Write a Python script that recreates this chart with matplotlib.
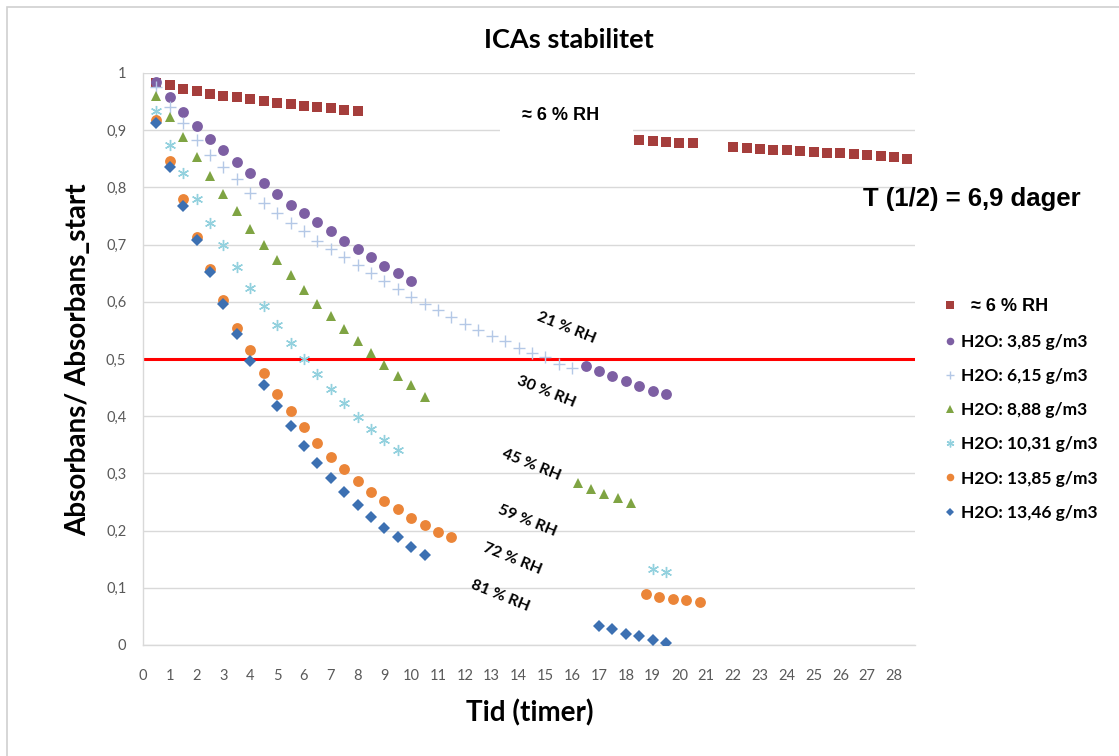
import matplotlib
matplotlib.use("Agg")
from matplotlib import pyplot as plt
from matplotlib.patches import Rectangle

W, H = 1119, 756

# --- data ---
x_ticks = [0, 1, 2, 3, 4, 5, 6, 7, 8, 9, 10, 11, 12, 13, 14, 15, 16, 17, 18, 19, 20,
           21, 22, 23, 24, 25, 26, 27, 28]
y_ticks = [0, 0.1, 0.2, 0.3, 0.4, 0.5, 0.6, 0.7, 0.8, 0.9, 1.0]
y_tick_labels = ["0", "0,1", "0,2", "0,3", "0,4", "0,5", "0,6", "0,7", "0,8", "0,9", "1"]

red_x = [0.5, 1, 1.5, 2, 2.5, 3, 3.5, 4, 4.5, 5, 5.5, 6, 6.5, 7, 7.5, 8,
         18.5, 19, 19.5, 20, 20.5,
         22, 22.5, 23, 23.5, 24, 24.5, 25, 25.5, 26, 26.5, 27, 27.5, 28, 28.5]
red_y = [0.983, 0.979, 0.972, 0.968, 0.964, 0.960, 0.958, 0.954, 0.951, 0.948, 0.945,
         0.942, 0.940, 0.938, 0.936, 0.934,
         0.883, 0.881, 0.880, 0.878, 0.877,
         0.870, 0.869, 0.867, 0.866, 0.865, 0.864, 0.862, 0.861, 0.860, 0.858, 0.856,
         0.855, 0.853, 0.850]

purple_x = [0.5, 1, 1.5, 2, 2.5, 3, 3.5, 4, 4.5, 5, 5.5, 6, 6.5, 7, 7.5, 8, 8.5, 9, 9.5, 10,
            16.5, 17, 17.5, 18, 18.5, 19, 19.5]
purple_y = [0.984, 0.958, 0.932, 0.908, 0.885, 0.865, 0.844, 0.825, 0.808, 0.789, 0.770,
            0.755, 0.739, 0.724, 0.707, 0.692, 0.678, 0.663, 0.650, 0.636,
            0.488, 0.479, 0.470, 0.461, 0.453, 0.444, 0.439]

plus_x = [0.5, 1, 1.5, 2, 2.5, 3, 3.5, 4, 4.5, 5, 5.5, 6, 6.5, 7, 7.5, 8, 8.5, 9, 9.5, 10,
          10.5, 11, 11.5, 12, 12.5, 13, 13.5, 14, 14.5, 15, 15.5, 16]
plus_y = [0.975, 0.941, 0.912, 0.883, 0.857, 0.835, 0.815, 0.790, 0.773, 0.755, 0.738,
          0.723, 0.707, 0.692, 0.678, 0.664, 0.651, 0.636, 0.623, 0.609, 0.597, 0.585,
          0.573, 0.562, 0.551, 0.540, 0.531, 0.520, 0.511, 0.503, 0.491, 0.485]

green_x = [0.5, 1, 1.5, 2, 2.5, 3, 3.5, 4, 4.5, 5, 5.5, 6, 6.5, 7, 7.5, 8, 8.5, 9, 9.5, 10,
           10.5, 16.2, 16.7, 17.2, 17.7, 18.2]
green_y = [0.960, 0.923, 0.888, 0.854, 0.820, 0.789, 0.759, 0.728, 0.700, 0.673, 0.646,
           0.621, 0.596, 0.575, 0.552, 0.531, 0.510, 0.489, 0.470, 0.454, 0.434,
           0.283, 0.273, 0.264, 0.257, 0.248]

star_x = [0.5, 1, 1.5, 2, 2.5, 3, 3.5, 4, 4.5, 5, 5.5, 6, 6.5, 7, 7.5, 8, 8.5, 9, 9.5,
          19, 19.5]
star_y = [0.934, 0.874, 0.826, 0.780, 0.738, 0.699, 0.661, 0.625, 0.592, 0.559, 0.528,
          0.500, 0.473, 0.447, 0.423, 0.399, 0.378, 0.358, 0.341, 0.132, 0.128]

orange_x = [0.5, 1, 1.5, 2, 2.5, 3, 3.5, 4, 4.5, 5, 5.5, 6, 6.5, 7, 7.5, 8, 8.5, 9, 9.5, 10,
            10.5, 11, 11.5, 18.75, 19.25, 19.75, 20.25, 20.75]
orange_y = [0.917, 0.847, 0.780, 0.714, 0.657, 0.603, 0.555, 0.515, 0.475, 0.438, 0.409,
            0.381, 0.354, 0.329, 0.307, 0.287, 0.268, 0.251, 0.237, 0.222, 0.210, 0.198,
            0.189, 0.090, 0.084, 0.081, 0.078, 0.075]

blue_x = [0.5, 1, 1.5, 2, 2.5, 3, 3.5, 4, 4.5, 5, 5.5, 6, 6.5, 7, 7.5, 8, 8.5, 9, 9.5, 10,
          10.5, 17, 17.5, 18, 18.5, 19, 19.5]
blue_y = [0.912, 0.835, 0.767, 0.708, 0.652, 0.596, 0.543, 0.497, 0.455, 0.417, 0.382,
          0.348, 0.319, 0.292, 0.268, 0.245, 0.224, 0.205, 0.188, 0.171, 0.157,
          0.033, 0.028, 0.020, 0.015, 0.009, 0.004]

labels = ["  \u2248 6 % RH", "H2O: 3,85 g/m3", "H2O: 6,15 g/m3", "H2O: 8,88 g/m3",
          "H2O: 10,31 g/m3", "H2O: 13,85 g/m3", "H2O: 13,46 g/m3"]

rh_labels = ["21 % RH", "30 % RH", "45 % RH", "59 % RH", "72 % RH", "81 % RH"]
rh_x = [15.76, 15.01, 14.49, 14.33, 13.76, 13.32]
rh_y = [0.554, 0.442, 0.315, 0.217, 0.150, 0.086]

CAL = "Lato"      # stand-in for Calibri
ARIAL = "Liberation Sans"

fig = plt.figure(figsize=(W / 100, H / 100), dpi=100)
# chart area border
fig.patches.append(Rectangle((7 / W, -0.1), 1.2, 1 - 7 / H + 0.1, transform=fig.transFigure,
                             fill=False, edgecolor="#D0D0D0", linewidth=1.2))

ax = fig.add_axes([143 / W, 1 - 645 / H, (915 - 143) / W, (645 - 73) / H])
ax.set_xlim(0, 28.78)
ax.set_ylim(0, 1)

ax.axhline(0.5, color="#FF0000", linewidth=2.2, zorder=2)

ms = 7.8
series = [
    (red_x, red_y, dict(marker="s", color="#A53E3C", ms=7.4)),
    (purple_x, purple_y, dict(marker="o", color="#7D5FA3", ms=ms)),
    (plus_x, plus_y, dict(marker="+", color="#B4C8E6", ms=8.5, mew=1.0)),
    (green_x, green_y, dict(marker="^", color="#7FA443", ms=7.5)),
    (star_x, star_y, dict(marker=(6, 2, 0), color="#93D1DE", ms=8, mew=1.0)),
    (orange_x, orange_y, dict(marker="o", color="#EB8538", ms=ms)),
    (blue_x, blue_y, dict(marker="D", color="#3C70B2", ms=5.8)),
]
for (xs, ys, st), lab in zip(series, labels):
    ax.plot(xs, ys, linestyle="none", label=lab, zorder=3, markeredgewidth=st.pop("mew", 0),
            **st)

ax.set_xticks(x_ticks)
ax.set_yticks(y_ticks)
ax.set_yticklabels(y_tick_labels)
ax.tick_params(length=0, labelsize=10.5, labelcolor="#595959", pad=12)
ax.tick_params(axis="x", pad=17)
for t in ax.get_xticklabels() + ax.get_yticklabels():
    t.set_fontfamily(CAL)
ax.grid(axis="y", color="#D9D9D9", linewidth=1.0, zorder=0)
ax.set_axisbelow(True)
for s in ["top", "right"]:
    ax.spines[s].set_visible(False)
for s in ["left", "bottom"]:
    ax.spines[s].set_color("#D9D9D9")
    ax.spines[s].set_linewidth(1.0)

# white box behind the "≈ 6 % RH" note
ax.add_patch(Rectangle((13.3, 0.88), 4.95, 0.08, facecolor="white", edgecolor="none", zorder=1))
ax.text(15.55, 0.925, "\u2248 6 % RH", fontsize=13, fontweight="bold", family=ARIAL,
        ha="center", va="center", zorder=4)

for lab, tx, ty in zip(rh_labels, rh_x, rh_y):
    ax.text(tx, ty, lab, rotation=-22, rotation_mode="anchor", fontsize=11.5,
            fontweight="bold", family=CAL, ha="center", va="center", zorder=4)

fig.text(863 / W, 1 - 199 / H, "T (1/2) = 6,9 dager", fontsize=18.5, fontweight="bold",
         family=ARIAL, ha="left", va="center")

fig.text(569 / W, 1 - 40 / H, "ICAs stabilitet", fontsize=19.5, fontweight="bold",
         family=CAL, ha="center", va="center")
fig.text(78 / W, 1 - 360 / H, "Absorbans/ Absorbans_start", fontsize=20, fontweight="bold",
         family=CAL, ha="center", va="center", rotation=90)
fig.text(530 / W, 1 - 713 / H, "Tid (timer)", fontsize=20, fontweight="bold",
         family=CAL, ha="center", va="center")

leg = fig.legend(loc="upper left", bbox_to_anchor=(934 / W, 1 - 288 / H), frameon=False,
                 markerscale=0.7, handlelength=0.6, handletextpad=0.35, labelspacing=1.05,
                 borderaxespad=0.2, prop=dict(family=CAL, weight="bold", size=12.5))
leg.get_texts()[0].set_fontfamily(ARIAL)
leg.get_texts()[0].set_fontsize(13)

fig.savefig("out.png", dpi=100)
